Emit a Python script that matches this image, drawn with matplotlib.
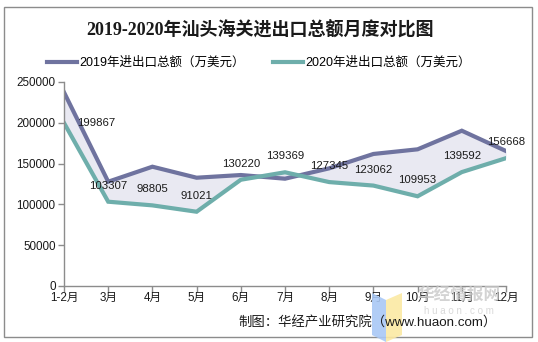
import matplotlib
matplotlib.use('Agg')
import matplotlib.pyplot as plt
from matplotlib.patches import Rectangle, Polygon

plt.rcParams['font.family'] = ['Liberation Sans', 'Noto Sans CJK SC']

months = ['1-2月', '3月', '4月', '5月', '6月', '7月', '8月', '9月', '10月', '11月', '12月']
total_2019 = [237400, 127800, 146200, 132700, 136000, 131500, 144200, 161800, 167500, 190300, 165400]
total_2020 = [199867, 103307, 98805, 91021, 130220, 139369, 127345, 123062, 109953, 139592, 156668]
yticks = [0, 50000, 100000, 150000, 200000, 250000]

W, H = 538, 342
fig = plt.figure(figsize=(W / 100, H / 100), dpi=100)
fig.patch.set_facecolor('white')

# outer frame
fig.patches.append(Rectangle((4 / W, 1 - 337 / H), 528 / W, 330 / H, transform=fig.transFigure,
                             fill=False, edgecolor='#8c8c8c', lw=1))

ax = fig.add_axes([64 / W, 1 - 286 / H, 442 / W, 204 / H])
x = list(range(len(months)))
ax.fill_between(x, total_2019, total_2020, color='#e9e9f2', lw=0)
ax.plot(x, total_2019, color='#6f739f', lw=3, solid_joinstyle='miter', label='2019年进出口总额（万美元）')
ax.plot(x, total_2020, color='#6eaeab', lw=3, solid_joinstyle='miter', label='2020年进出口总额（万美元）')

for i, v in enumerate(total_2020):
    if i == 0:
        ax.annotate(str(v), (i, v), xytext=(23, 0), textcoords='offset points', fontsize=8.2,
                    ha='center', va='center', color='#1a1a1a')
    else:
        ax.annotate(str(v), (i, v), xytext=(0, 11.5), textcoords='offset points', fontsize=8.2,
                    ha='center', va='center', color='#1a1a1a')

ax.set_xlim(0, len(months) - 1)
ax.set_ylim(0, 250000)
ax.set_xticks(x)
ax.set_xticklabels(months, fontsize=8.4)
ax.set_yticks(yticks)
ax.set_yticklabels([str(t) for t in yticks], fontsize=8.4)
for s in ['top', 'right']:
    ax.spines[s].set_visible(False)
for s in ['left', 'bottom']:
    ax.spines[s].set_color('#8c8c8c')
    ax.spines[s].set_linewidth(1)
ax.tick_params(axis='both', colors='#8c8c8c', labelcolor='#1a1a1a', length=4, width=1, pad=2)
ax.tick_params(axis='x', pad=0.5)
ax.set_facecolor('none')

fig.text(260 / W, 1 - 30 / H, '2019-2020年汕头海关进出口总额月度对比图',
         family=['Liberation Serif', 'Noto Sans CJK SC'], fontweight='bold', fontsize=13,
         ha='center', va='center', color='#1a1a1a')

fig.legend(loc='center', bbox_to_anchor=(259 / W, 1 - 63 / H), ncol=2, frameon=False,
           fontsize=9, handlelength=2.4, handletextpad=0.2, columnspacing=2.2)

fig.text(497 / W, 1 - 323 / H, '制图：华经产业研究院（www.huaon.com）', fontsize=9.6,
         ha='right', va='center', color='#1a1a1a')

# watermark
fig.patches.append(Polygon([(372 / W, 1 - 293 / H), (386 / W, 1 - 300 / H), (386 / W, 1 - 342 / H),
                            (372 / W, 1 - 335 / H)], closed=True, transform=fig.transFigure,
                           color='#a9c8f5', alpha=0.9, lw=0))
fig.patches.append(Polygon([(386 / W, 1 - 300 / H), (402 / W, 1 - 293 / H), (402 / W, 1 - 335 / H),
                            (386 / W, 1 - 342 / H)], closed=True, transform=fig.transFigure,
                           color='#fbe9a3', alpha=0.9, lw=0))
fig.text(459 / W, 1 - 296 / H, '华经情报网', fontsize=12, fontweight='bold', ha='center', va='center',
         color='#c8c8c8', alpha=0.8, zorder=0)
fig.text(459 / W, 1 - 311 / H, 'h u a o n . c o m', fontsize=7, ha='center', va='center',
         color='#d0d0d0', alpha=0.8, zorder=0)

fig.savefig('out.png', dpi=100)
